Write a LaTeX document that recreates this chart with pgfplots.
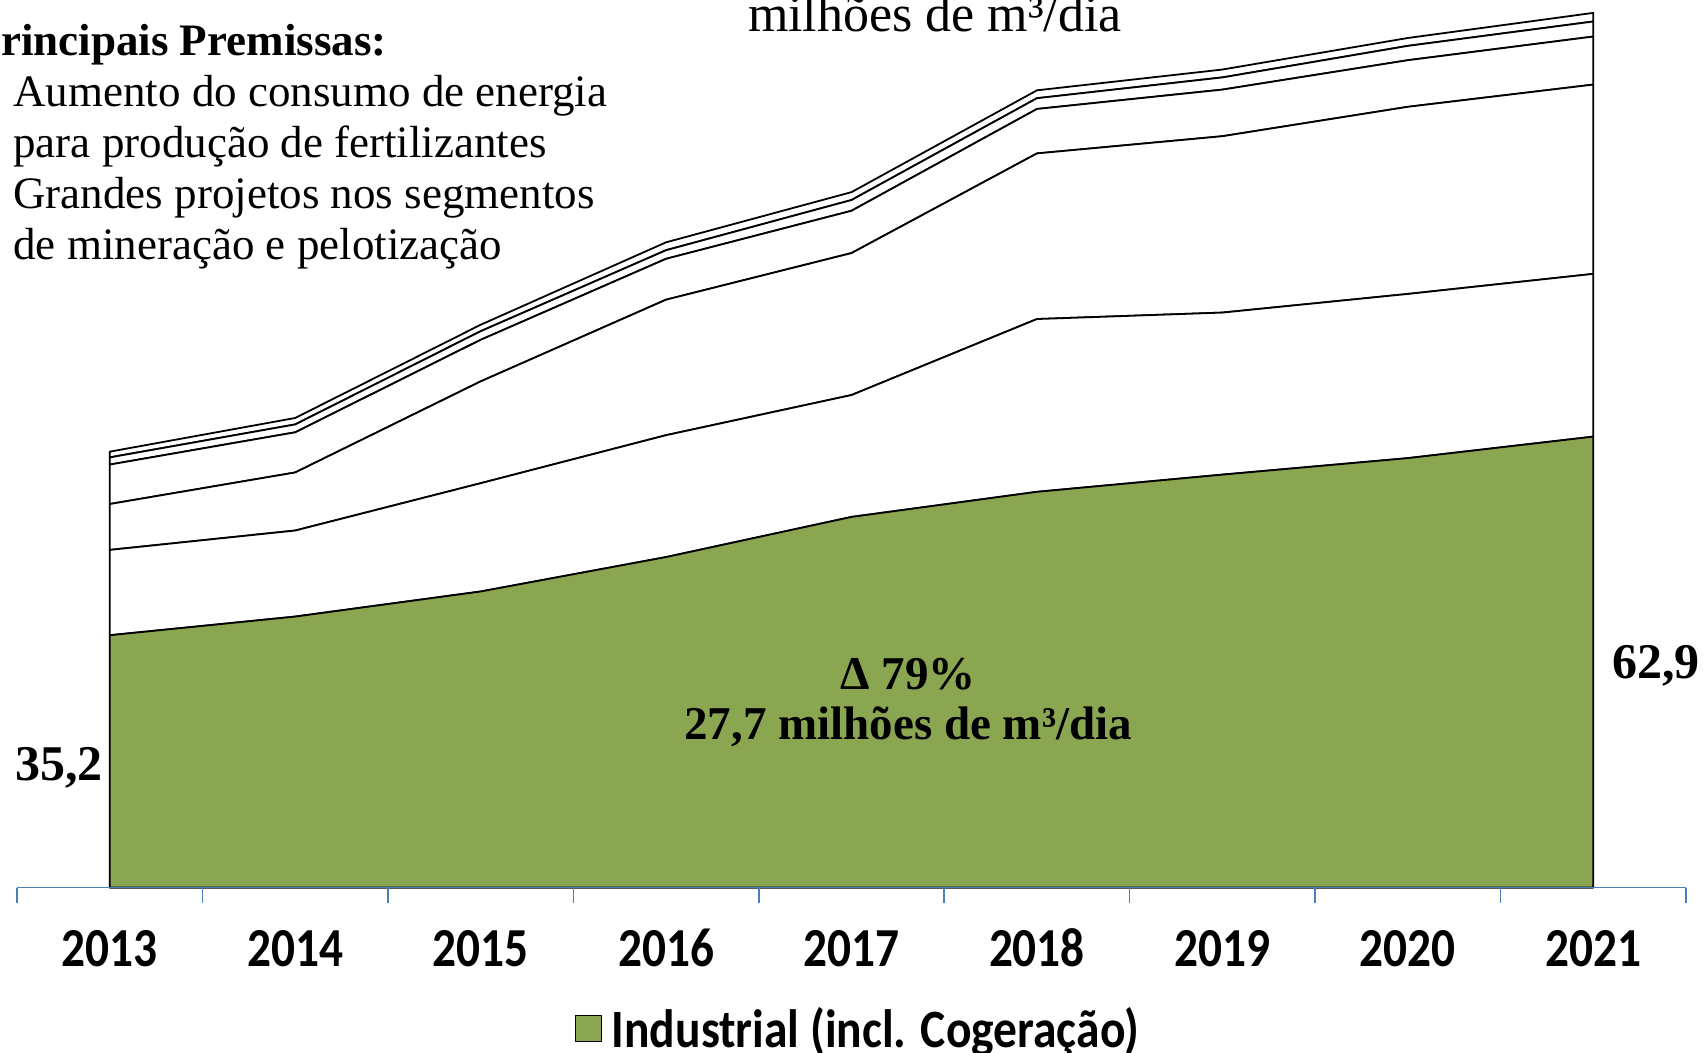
\documentclass[border=0pt]{standalone}
\usepackage{fontspec}
\usepackage{graphicx}
\usepackage{pgfplots}
\usepackage{pgfplotstable}
\pgfplotsset{compat=1.18}
\setmainfont{Liberation Serif}
\newfontfamily\carlito{Carlito}
\definecolor{indgreen}{RGB}{138,166,80}
\definecolor{axblue}{RGB}{74,126,187}
\newcommand\sqz[2]{\scalebox{#1}[1]{#2}}

\pgfplotstableread{
x ind s2 s3 s4 s5 s6
0 35.2 11.9 6.4 5.5 1.0 0.8
1 37.8 12.0 8.1 5.6 1.1 0.9
2 41.3 15.1 14.2 5.8 1.2 0.9
3 46.1 17.0 18.9 5.7 1.2 1.1
4 51.7 17.0 19.8 5.9 1.5 1.1
5 55.2 24.1 23.1 6.2 1.5 1.1
6 57.6 22.6 24.6 6.5 1.7 1.1
7 59.9 22.9 26.1 6.5 2.0 1.1
8 62.9 22.7 26.4 6.7 2.1 1.2
}\data

\begin{document}
\begin{tikzpicture}
\begin{axis}[
  name=ax,
  scale only axis,
  width=834.5pt, height=443.8pt,
  xmin=-0.5, xmax=8.5, ymin=0, ymax=123.8,
  axis x line=bottom, axis y line=none,
  axis line style={-, draw=axblue, line width=0.75pt},
  xtick={0,...,8},
  xticklabels={\sqz{0.86}{2013},\sqz{0.86}{2014},\sqz{0.86}{2015},\sqz{0.86}{2016},\sqz{0.86}{2017},\sqz{0.86}{2018},\sqz{0.86}{2019},\sqz{0.86}{2020},\sqz{0.86}{2021}},
  major tick length=0pt,
  minor xtick={-0.5,0.5,...,8.5},
  minor tick length=7.5pt,
  tick align=outside,
  every minor tick/.append style={draw=axblue, line width=0.75pt},
  ytick=\empty,
  xticklabel style={font=\carlito\bfseries\fontsize{27.5}{30}\selectfont, anchor=base, yshift=-39.5pt},
  stack plots=y,
  clip=false,
  axis on top,
  legend style={at={(0.5045,-0.159)}, anchor=center, draw=none, fill=none, inner sep=0pt,
    font=\carlito\bfseries\fontsize{27}{30}\selectfont,
    /tikz/every odd column/.append style={column sep=3pt}},
  legend image code/.code={\draw[fill=indgreen,draw=black,line width=0.6pt] (0pt,-6.5pt) rectangle (13pt,6.5pt);},
]
\addplot[fill=indgreen, draw=black, line width=0.9pt, line join=round] table[x=x,y=ind]{\data} \closedcycle;
\addlegendentry{\sqz{0.88}{Industrial (incl. Cogeração)}}
\addplot[fill=white, draw=black, line width=0.9pt, line join=round, forget plot] table[x=x,y=s2]{\data} \closedcycle;
\addplot[fill=white, draw=black, line width=0.9pt, line join=round, forget plot] table[x=x,y=s3]{\data} \closedcycle;
\addplot[fill=white, draw=black, line width=0.9pt, line join=round, forget plot] table[x=x,y=s4]{\data} \closedcycle;
\addplot[fill=white, draw=black, line width=0.9pt, line join=round, forget plot] table[x=x,y=s5]{\data} \closedcycle;
\addplot[fill=white, draw=black, line width=0.9pt, line join=round, forget plot] table[x=x,y=s6]{\data} \closedcycle;

\coordinate (a1) at (axis cs:-0.274,14.92);
\coordinate (a2) at (axis cs:8.338,29.18);
\coordinate (a3) at (axis cs:4.305,27.66);
\coordinate (a4) at (axis cs:4.305,20.68);
\coordinate (a5) at (axis cs:4.45,119.41);
\coordinate (a6) at (axis cs:1.495,116.07);
\coordinate (b1) at (axis cs:-0.5216,108.94);
\coordinate (b2) at (axis cs:-0.5216,101.81);
\coordinate (b3) at (axis cs:-0.5216,94.69);
\coordinate (b4) at (axis cs:-0.5216,87.56);
\end{axis}
\node[anchor=base, font=\bfseries\fontsize{25}{30}\selectfont] at (a1) {35,2};
\node[anchor=base, font=\bfseries\fontsize{25}{30}\selectfont] at (a2) {62,9};
\node[anchor=base, font=\bfseries\fontsize{23.5}{28}\selectfont] at (a3) {Δ 79\%};
\node[anchor=base, font=\bfseries\fontsize{23.5}{28}\selectfont] at (a4) {27,7 milhões de m³/dia};
\node[anchor=base, font=\fontsize{26}{30}\selectfont] at (a5) {milhões de m³/dia};
\node[anchor=base east, inner sep=0pt, font=\bfseries\fontsize{22.5}{27}\selectfont] at (a6) {Principais Premissas:};
\node[anchor=base west, inner sep=0pt, font=\fontsize{22.5}{27}\selectfont] at (b1) {Aumento do consumo de energia};
\node[anchor=base west, inner sep=0pt, font=\fontsize{22.5}{27}\selectfont] at (b2) {para produção de fertilizantes};
\node[anchor=base west, inner sep=0pt, font=\fontsize{22.5}{27}\selectfont] at (b3) {Grandes projetos nos segmentos};
\node[anchor=base west, inner sep=0pt, font=\fontsize{22.5}{27}\selectfont] at (b4) {de mineração e pelotização};
\pgfresetboundingbox
\path[use as bounding box] ([xshift=-8.5pt,yshift=-82.65pt]ax.south west) rectangle ([xshift=9.5pt]ax.north east);
\end{tikzpicture}
\end{document}
